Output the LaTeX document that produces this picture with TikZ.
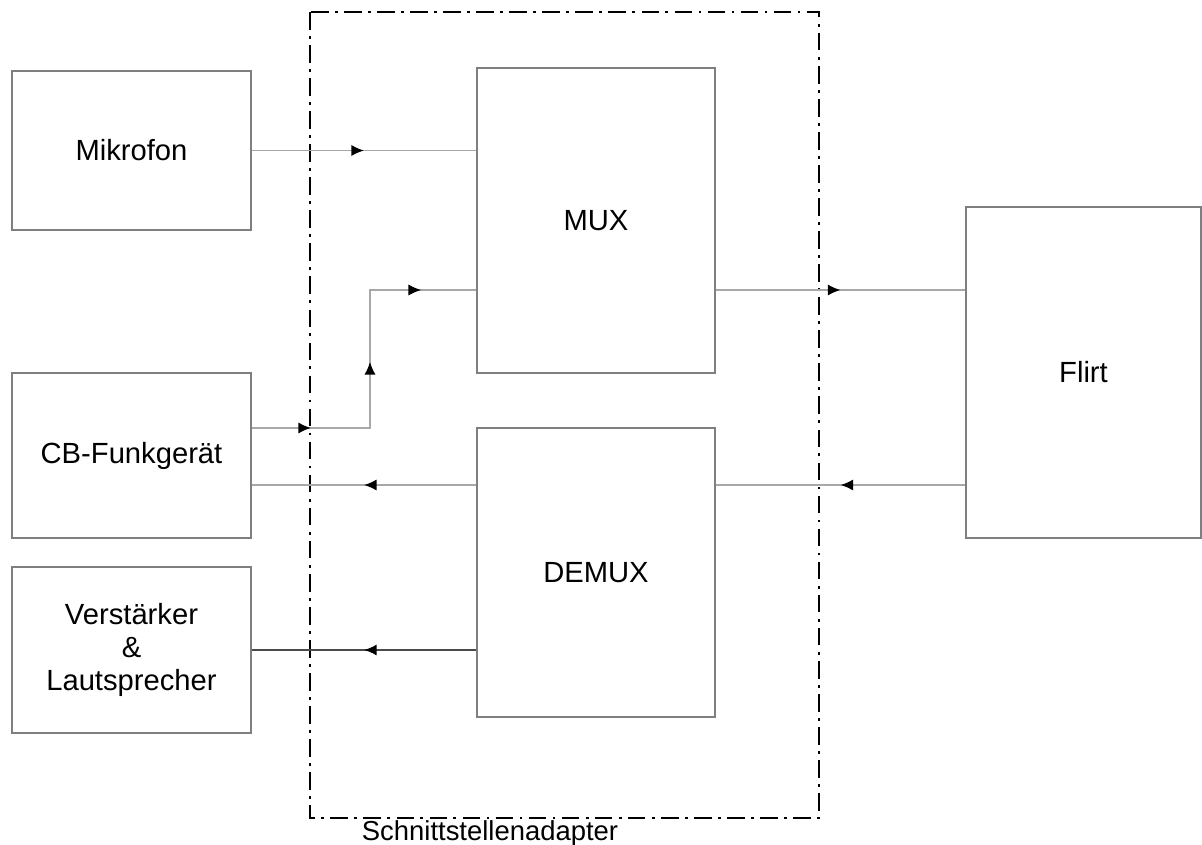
\documentclass[tikz,border=0pt]{standalone}
\usepackage{fontspec}
\setmainfont{Liberation Sans}
\usetikzlibrary{arrows.meta, positioning, decorations.markings, calc}
\definecolor{boxgray}{HTML}{7F7F7F}
\definecolor{linegray}{HTML}{A8A8A8}
\definecolor{darkline}{HTML}{4A4A4A}
\tikzset{
  box/.style={draw=boxgray, line width=0.5pt, inner sep=0pt, align=center,
    font=\fontsize{8.3}{9.4}\selectfont},
  link/.style={draw=linegray, line width=0.45pt},
  tipat/.style={postaction={decorate, decoration={markings,
    mark=at position #1 with {\arrow[black]{Latex[length=3.6pt,width=3.2pt]}}}}},
  adapterframe/.style={draw=black, line width=0.7pt,
    dash pattern=on 5pt off 1.8pt on 0.8pt off 1.8pt}
}

\begin{document}
\begin{tikzpicture}[x=0.01cm, y=-0.01cm]
  \useasboundingbox (0,0) rectangle (1202,845);

  % Adapter frame
  \draw[adapterframe] (310,12) rectangle (819,818);
  \node[font=\fontsize{7.8}{9}\selectfont, anchor=base] (adapterlabel) at (490,840) {Schnittstellenadapter};

  % Devices
  \node[box, minimum width=2.39cm, minimum height=1.59cm] (mikro) at (131.5,150.5) {Mikrofon};
  \node[box, minimum width=2.39cm, minimum height=1.65cm] (cb) at (131.5,455.5) {CB-Funkger\"at};
  \node[box, minimum width=2.39cm, minimum height=1.66cm] (verst) at (131.5,650) {Verst\"arker\\\&\\Lautsprecher};
  \node[box, minimum width=2.38cm, minimum height=3.05cm] (mux) at (596,220.5) {MUX};
  \node[box, minimum width=2.38cm, minimum height=2.89cm] (demux) at (596,572.5) {DEMUX};
  \node[box, minimum width=2.35cm, minimum height=3.31cm] (flirt) at (1083.5,372.5) {Flirt};

  % Helper coordinates
  \coordinate (bend) at (370,290);
  \coordinate (back) at (0,485);

  % Signal paths
  \draw[link, tipat=0.5] (mikro.east) -- (mikro.east -| mux.west);
  \draw[link, tipat=0.59cm, tipat=1.84cm, tipat=3.07cm]
    ([yshift=2.75mm]cb.east) -| (bend) -- (bend -| mux.west);
  \draw[link, tipat=0.5] (bend -| mux.east) -- (bend -| flirt.west);
  \draw[link, tipat=0.5] (back -| flirt.west) -- (back -| demux.east);
  \draw[link, tipat=0.5] (back -| demux.west) -- (back -| cb.east);
  \draw[link, draw=darkline, line width=0.6pt, tipat=0.5] (verst.east -| demux.west) -- (verst.east);
\end{tikzpicture}
\end{document}
